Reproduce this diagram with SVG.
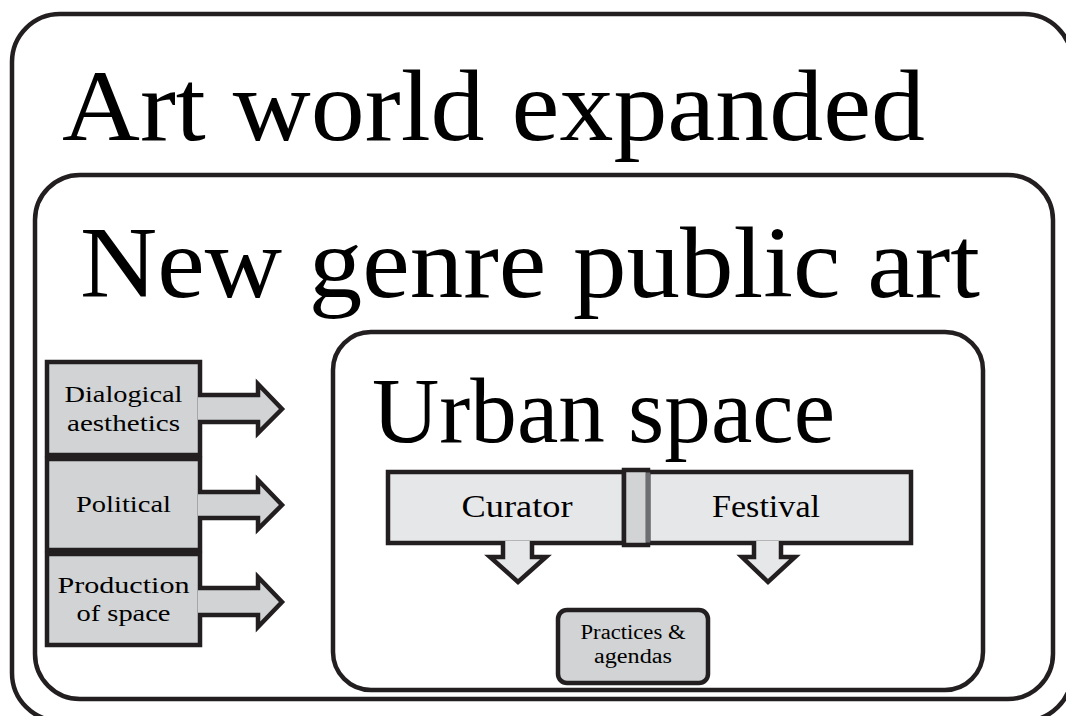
<svg xmlns="http://www.w3.org/2000/svg" width="1066" height="716" viewBox="0 0 1066 716">
<style>
.frame{fill:none;stroke:#231f20;stroke-width:4.5}
.box{fill:#d1d3d4;stroke:#231f20;stroke-width:4.5;stroke-linejoin:miter}
.lbox{fill:#e6e7e8;stroke:#231f20;stroke-width:4.5;stroke-linejoin:miter}
.arr{fill:#d1d3d4;stroke:#231f20;stroke-width:4.5;stroke-linejoin:miter}
.darr{fill:#e6e7e8;stroke:#231f20;stroke-width:4.5;stroke-linejoin:miter}
text{font-family:"Liberation Serif","DejaVu Serif",serif;fill:#000;text-anchor:middle}
.big{font-size:102px;text-anchor:start}
.mid{font-size:32px}
.sm{font-size:24px}
.xs{font-size:20px}
</style>
<rect width="1066" height="716" fill="#fff"/>
<g id="art-world">
<rect class="frame" x="12" y="14" width="1060" height="707" rx="48"/>
<text class="big" x="62" y="140" textLength="863" lengthAdjust="spacingAndGlyphs">Art world expanded</text>
</g>
<g id="new-genre">
<rect class="frame" x="35" y="175" width="1018" height="524" rx="45"/>
<text class="big" x="80" y="297" textLength="900" lengthAdjust="spacingAndGlyphs">New genre public art</text>
</g>
<g id="urban-space">
<rect class="frame" x="333" y="332" width="650" height="358" rx="38"/>
<text class="big" style="font-size:93px" x="372" y="442" textLength="463" lengthAdjust="spacingAndGlyphs">Urban space</text>
</g>
<g id="dialogical">
<rect class="box" x="47" y="362" width="153" height="93"/>
<text class="sm" x="123.5" y="402" textLength="118" lengthAdjust="spacingAndGlyphs">Dialogical</text>
<text class="sm" x="123.5" y="431" textLength="113" lengthAdjust="spacingAndGlyphs">aesthetics</text>
</g>
<g id="political">
<rect class="box" x="47" y="459" width="153" height="91"/>
<text class="sm" x="123.5" y="512" textLength="95" lengthAdjust="spacingAndGlyphs">Political</text>
</g>
<g id="production">
<rect class="box" x="47" y="554" width="153" height="91"/>
<text class="sm" x="123.5" y="593" textLength="132" lengthAdjust="spacingAndGlyphs">Production</text>
<text class="sm" x="123.5" y="621" textLength="94" lengthAdjust="spacingAndGlyphs">of space</text>
</g>
<g id="curator">
<rect class="lbox" x="388" y="472" width="236" height="71"/>
<text class="mid" x="517" y="517" textLength="111" lengthAdjust="spacingAndGlyphs">Curator</text>
</g>
<g id="festival">
<rect class="lbox" x="648" y="472" width="263" height="71"/>
<text class="mid" x="766" y="517" textLength="108" lengthAdjust="spacingAndGlyphs">Festival</text>
</g>
<g id="practices">
<rect class="box" x="558" y="610" width="150" height="73" rx="9"/>
<text class="xs" x="633" y="639" textLength="105" lengthAdjust="spacingAndGlyphs">Practices &amp;</text>
<text class="xs" x="633" y="663" textLength="78" lengthAdjust="spacingAndGlyphs">agendas</text>
</g>
<g id="connectors">
<path class="arr" d="M198,395 H258 V384 L282,409 L258,433 V422 H198"/>
<path class="arr" d="M198,492 H258 V480 L282,505 L258,529 V518 H198"/>
<path class="arr" d="M198,588 H258 V577 L282,602 L258,627 V615 H198"/>
<path class="darr" d="M503,541 V557 H490 L518,582 L546,557 H532 V541"/>
<path class="darr" d="M754,541 V557 H742 L768,582 L795,557 H781 V541"/>
<rect x="624" y="470" width="24" height="75" fill="#d1d3d4" stroke="#231f20" stroke-width="4.5"/>
<line x1="648" y1="472.5" x2="648" y2="542.5" stroke="#6d6e71" stroke-width="4.5"/>
</g>
</svg>
